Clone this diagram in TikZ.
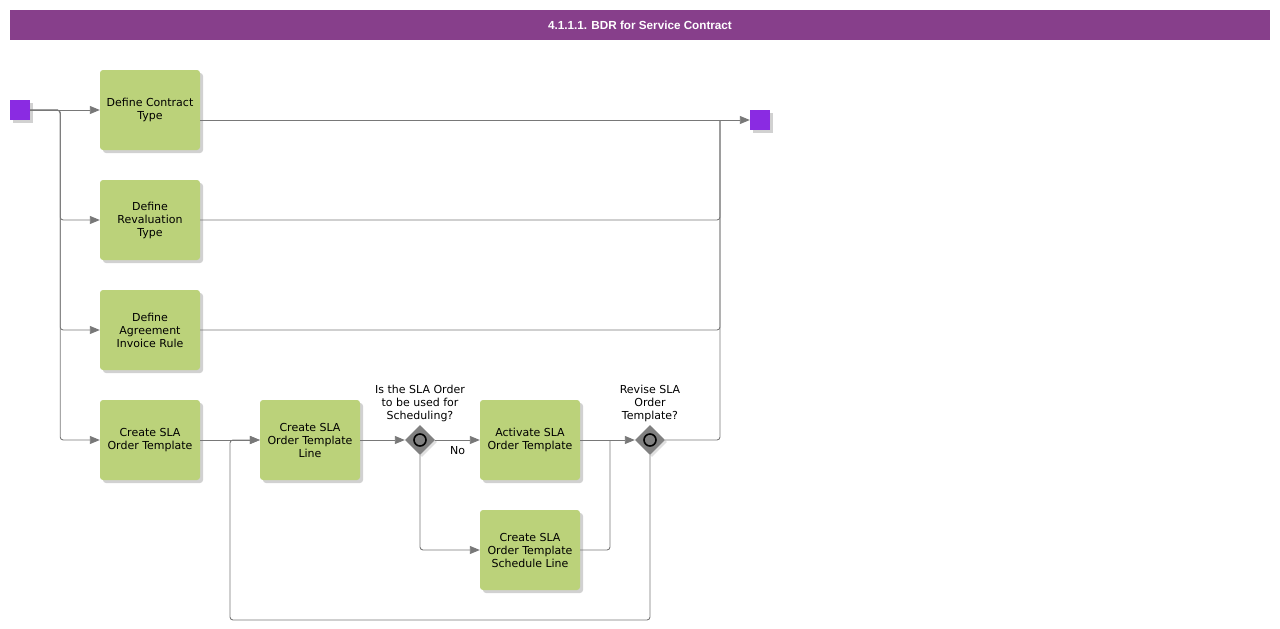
\documentclass[tikz,border=0pt]{standalone}
\usepackage{fontspec}
\setmainfont{DejaVu Sans}
\newfontfamily\titlefont{Liberation Sans}
\usepackage{tikz}
\usetikzlibrary{
  shapes.geometric,
  arrows.meta,
  positioning,
  shadows
}
\definecolor{titlecolor}{RGB}{135, 63, 139}
\definecolor{taskcolor}{RGB}{187, 210, 122}
\definecolor{eventcolor}{RGB}{138, 43, 226}
\definecolor{gatecolor}{RGB}{128, 128, 128}
\definecolor{flowcolor}{RGB}{120, 120, 120}
\tikzset{
tasktext/.style={
  align=center,
  font=\fontsize{11}{13}\selectfont,
  text=black
},
task/.style={
  rectangle,
  rounded corners=3pt,
  fill=taskcolor,
  minimum height=80pt,
  minimum width=100pt,
  inner sep=2pt,
  drop shadow={shadow xshift=3pt, shadow yshift=-3pt, fill=black!30, opacity=0.6},
  tasktext
},
event/.style={
  rectangle,
  fill=eventcolor,
  minimum size=20pt,
  inner sep=0pt,
  drop shadow={shadow xshift=3pt, shadow yshift=-3pt, fill=black!30, opacity=0.6}
},
gateway/.style={
  diamond,
  fill=gatecolor,
  minimum width=30pt,
  minimum height=30pt,
  inner sep=0pt,
  drop shadow={shadow xshift=2pt, shadow yshift=-2pt, fill=black!25, opacity=0.5}
},
gatering/.style={
  circle,
  draw=black,
  line width=1.6pt,
  minimum size=12pt,
  inner sep=0pt
},
gatelabel/.style={
  tasktext,
  anchor=south
},
line/.style={
  draw=flowcolor,
  line width=0.9pt,
  rounded corners=3pt
},
flow/.style={
  line,
  -{Triangle[length=10pt,width=8pt]},
  color=flowcolor
}
}
\begin{document}
\begin{tikzpicture}[x=1pt,y=-1pt]
  \useasboundingbox (0,0) rectangle (1280,629);
  \node[fill=titlecolor, minimum width=1260pt, minimum height=30pt, inner sep=0pt,
    text=white, font=\titlefont\bfseries\fontsize{11.7}{13}\selectfont] (title) at (640,25)
    {4.1.1.1. BDR for Service Contract};

  \node[event] (start) at (20,110) {};
  \node[event] (stop) at (760,120) {};

  \node[task] (ct) at (150,110) {Define Contract\\Type};
  \node[task] (rt) at (150,220) {Define\\Revaluation\\Type};
  \node[task] (ai) at (150,330) {Define\\Agreement\\Invoice Rule};
  \node[task] (cst) at (150,440) {Create SLA\\Order Template};
  \node[task] (ctl) at (310,440) {Create SLA\\Order Template\\Line};
  \node[task] (act) at (530,440) {Activate SLA\\Order Template};
  \node[task] (csl) at (530,550) {Create SLA\\Order Template\\Schedule Line};

  \node[gateway] (gw1) at (420,440) {};
  \node[gatering] (gw1c) at (gw1) {};
  \node[gatelabel] (gw1l) at (420,425) {Is the SLA Order\\to be used for\\Scheduling?};
  \node[gateway] (gw2) at (650,440) {};
  \node[gatering] (gw2c) at (gw2) {};
  \node[gatelabel] (gw2l) at (650,425) {Revise SLA\\Order\\Template?};

  \coordinate (mrg) at (720,120);
  \coordinate (jn) at (610,440);
  \coordinate (lp) at (230,620);

  \draw[flow] (start) -- (ct);
  \draw[flow] (start.east) -- ++(30,0) |- (rt);
  \draw[flow] (start.east) -- ++(30,0) |- (ai);
  \draw[flow] (start.east) -- ++(30,0) |- (cst);

  \draw[flow] (ct.east |- stop) -- (stop);
  \draw[line] (rt) -| (mrg);
  \draw[line] (ai) -| (mrg);
  \draw[line] (gw2) -| (mrg);

  \draw[flow] (cst) -- (ctl);
  \draw[flow] (gw2.south) |- (lp) |- (ctl);
  \draw[flow] (ctl) -- (gw1);
  \draw[flow] (gw1) -- node[tasktext, below=3pt] (nolbl) {No} (act);
  \draw[flow] (gw1.south) |- (csl);
  \draw[flow] (act) -- (gw2);
  \draw[line] (csl) -| (jn);
\end{tikzpicture}
\end{document}
